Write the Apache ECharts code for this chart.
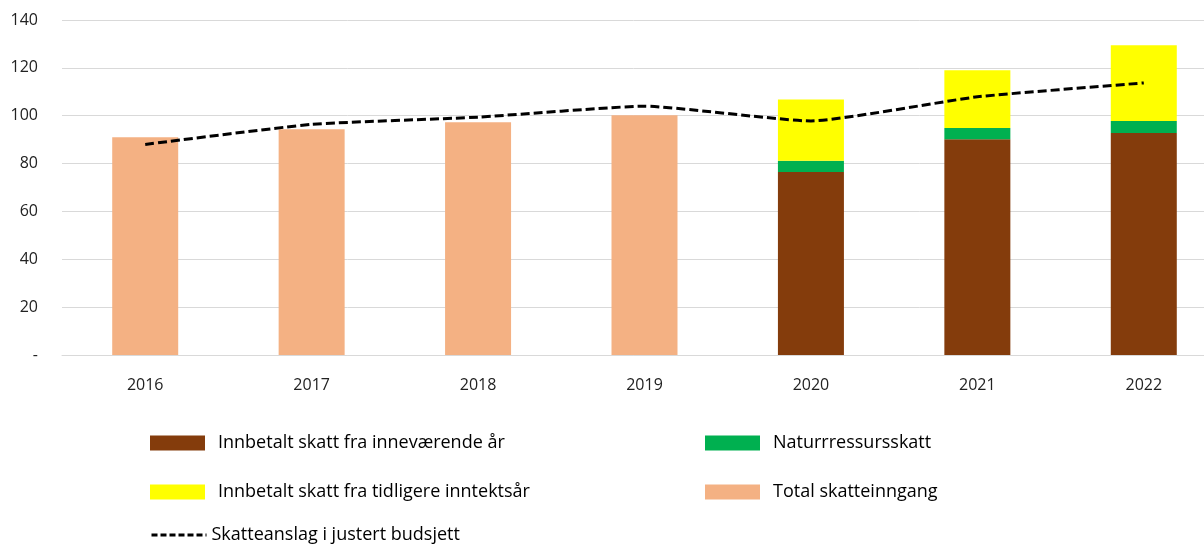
<!DOCTYPE html>
<html>
<head>
<meta charset="utf-8">
<script src="https://cdn.jsdelivr.net/npm/echarts@6/dist/echarts.min.js"></script>
<style>
  html, body { margin: 0; padding: 0; background: #fff; }
  #chart { width: 1204px; height: 545px; }
</style>
</head>
<body>
<div id="chart"></div>
<script>
// år og verdier (mrd. kr), lest av figuren
var years = ['2016', '2017', '2018', '2019', '2020', '2021', '2022'];
var innevaerende = ['-', '-', '-', '-', 76.5, 90.2, 92.8];
var naturressurs = ['-', '-', '-', '-', 4.7, 4.7, 5.0];
var tidligere = ['-', '-', '-', '-', 25.6, 24.1, 31.6];
var total = [91.0, 94.3, 97.3, 100.2, '-', '-', '-'];
var anslag = [88.0, 96.4, 99.4, 104.0, 97.8, 107.9, 113.7];

var font = '"Open Sans", sans-serif';
var chart = echarts.init(document.getElementById('chart'));

function legendAt(name, left, top, pad) {
    return {
        data: [name],
        left: left,
        top: top,
        icon: 'rect',
        itemWidth: 55,
        itemHeight: 15,
        textStyle: {fontFamily: font, fontSize: 18, color: '#000', padding: [0, 0, 0, pad]}
    };
}

var lineLegend = {
    data: ['Skatteanslag i justert budsjett'],
    left: 145, top: 521,
    itemWidth: 55, itemHeight: 15,
    itemStyle: {opacity: 0},
    lineStyle: {color: '#000', width: 3, type: [6, 3]},
    textStyle: {fontFamily: font, fontSize: 18, color: '#000'}
};

var options = {
    animation: false,
    grid: {left: 62, right: -23, top: 20, bottom: 190, outerBoundsMode: 'none'},
    legend: [
        legendAt('Innbetalt skatt fra inneværende år', 145, 429, 8),
        legendAt('Naturrressursskatt', 700, 429, 8),
        legendAt('Innbetalt skatt fra tidligere inntektsår', 145, 478, 8),
        legendAt('Total skatteinngang', 700, 478, 8),
        lineLegend
    ],
    xAxis: {
        type: 'category',
        data: years,
        axisLine: {lineStyle: {color: '#d9d9d9', width: 1}},
        axisTick: {show: false},
        axisLabel: {fontFamily: font, fontSize: 16, color: '#222', margin: 22}
    },
    yAxis: {
        type: 'value',
        min: 0, max: 140, interval: 20,
        axisLine: {show: false},
        axisTick: {show: false},
        splitLine: {lineStyle: {color: '#d9d9d9', width: 1}},
        axisLabel: {
            fontFamily: font, fontSize: 16, color: '#222', margin: 24,
            formatter: function (v) { return v === 0 ? '-' : v; }
        }
    },
    series: [
        {
            name: 'Innbetalt skatt fra inneværende år', type: 'bar', stack: 'skatt',
            barWidth: 66, barGap: '-100%',
            itemStyle: {color: '#843c0c'},
            data: innevaerende
        },
        {
            name: 'Naturrressursskatt', type: 'bar', stack: 'skatt',
            barWidth: 66, barGap: '-100%',
            itemStyle: {color: '#00b050'},
            data: naturressurs
        },
        {
            name: 'Innbetalt skatt fra tidligere inntektsår', type: 'bar', stack: 'skatt',
            barWidth: 66, barGap: '-100%',
            itemStyle: {color: '#ffff00'},
            data: tidligere
        },
        {
            name: 'Total skatteinngang', type: 'bar', stack: 'total',
            barWidth: 66, barGap: '-100%',
            itemStyle: {color: '#f4b183'},
            data: total
        },
        {
            name: 'Skatteanslag i justert budsjett', type: 'line',
            smooth: 0.15, symbol: 'none', z: 5,
            itemStyle: {color: '#000'},
            lineStyle: {color: '#000', width: 3, type: [9, 4]},
            data: anslag
        }
    ]
};
chart.setOption(options);
</script>
</body>
</html>
